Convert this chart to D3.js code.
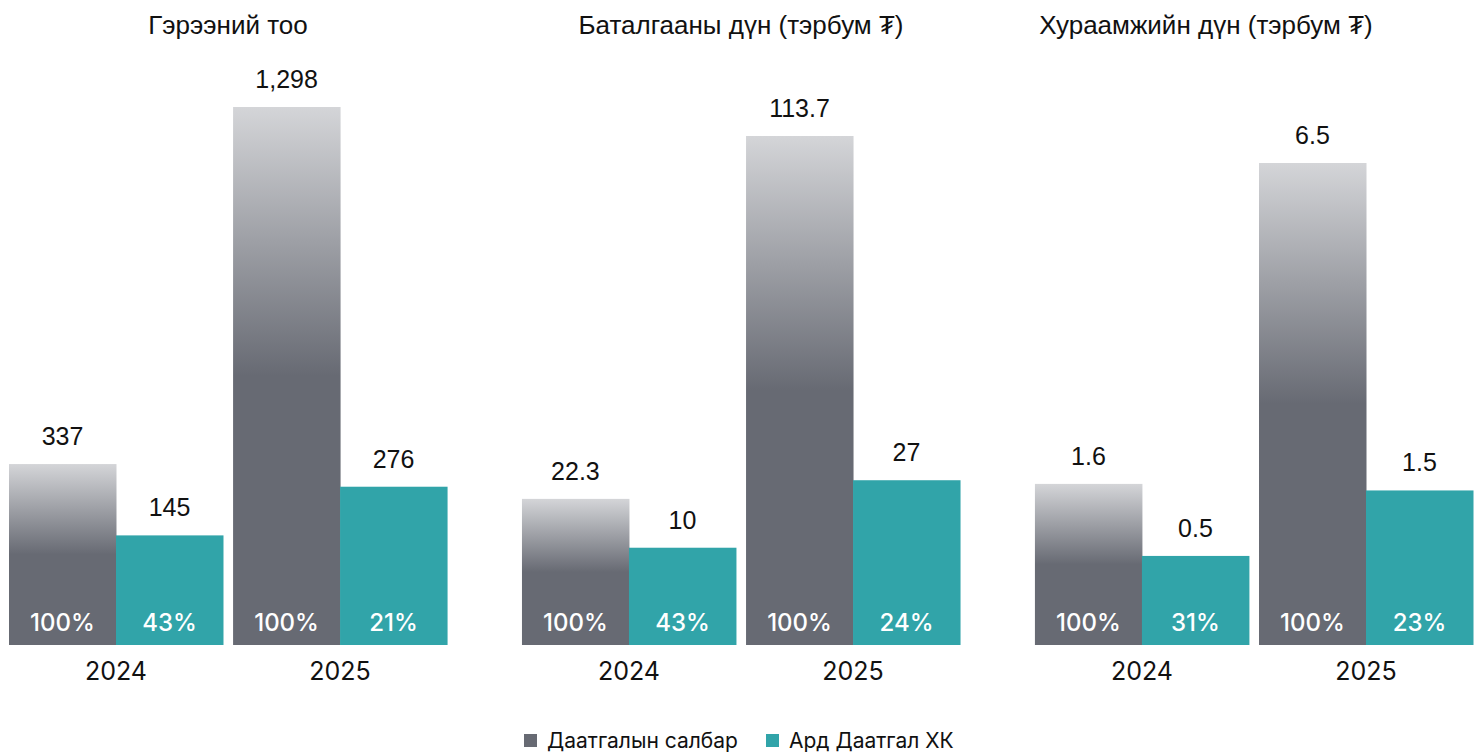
<!DOCTYPE html>
<html>
<head>
<meta charset="utf-8">
<script src="https://cdn.jsdelivr.net/npm/d3@7"></script>
<style>
  body { margin: 0; background: #fff; }
  svg { display: block; }
</style>
</head>
<body>
<div id="chart"></div>
<script>
// panel titles
const panelTitles = ["Гэрээний тоо", "Баталгааны дүн (тэрбум ₮)", "Хураамжийн дүн (тэрбум ₮)"];
const years = ["2024", "2025"];
const seriesNames = ["Даатгалын салбар", "Ард Даатгал ХК"];

// values per panel: [year][series]
const contractCount = [[337, 145], [1298, 276]];
const guaranteeAmount = [[22.3, 10], [113.7, 27]];
const premiumAmount = [[1.6, 0.5], [6.5, 1.5]];

// share labels shown inside the bars
const contractShare = [[100, 43], [100, 21]];
const guaranteeShare = [[100, 43], [100, 24]];
const premiumShare = [[100, 31], [100, 23]];

// bars are drawn from a floor below zero (as in the source design)
const axisFloor = [-150, -14.5, -0.86];

const panels = [
    { title: panelTitles[0], values: contractCount, share: contractShare, floor: axisFloor[0] },
    { title: panelTitles[1], values: guaranteeAmount, share: guaranteeShare, floor: axisFloor[1] },
    { title: panelTitles[2], values: premiumAmount, share: premiumShare, floor: axisFloor[2] }
];

const W = 1480, H = 754;
const baseY = 645;
const topY = [107, 136, 163];
const titleShift = [0, 0, -48];

const colors = ["url(#grayGrad)", "#31a4a9"];
const legendColors = ["#676a73", "#31a4a9"];

const svg = d3.select("#chart").append("svg")
    .attr("width", W)
    .attr("height", H);

const grad = svg.append("defs").append("linearGradient")
    .attr("id", "grayGrad")
    .attr("x1", 0).attr("y1", 0).attr("x2", 0).attr("y2", 1);
grad.append("stop").attr("offset", "0%").attr("stop-color", "#d4d5d8");
grad.append("stop").attr("offset", "50%").attr("stop-color", "#676a73");
grad.append("stop").attr("offset", "100%").attr("stop-color", "#676a73");

const xPanel = d3.scaleBand()
    .domain(d3.range(panels.length))
    .range([9, 1473])
    .paddingInner(0.146);

const xYear = d3.scaleBand()
    .domain(years)
    .range([0, xPanel.bandwidth()])
    .paddingInner(0.045);

const xSeries = d3.scaleBand()
    .domain(seriesNames)
    .range([0, xYear.bandwidth()]);

const fmt = d3.format(",");
const titleFont = "'Liberation Sans', Arial, sans-serif";
const labelFont = "Inter, 'Noto Sans', sans-serif";

panels.forEach((p, i) => {
    const maxVal = d3.max(p.values.flat());
    const y = d3.scaleLinear().domain([p.floor, maxVal]).range([baseY, topY[i]]);

    const g = svg.append("g")
        .attr("transform", `translate(${xPanel(i)},0)`);

    g.append("text")
        .attr("x", xPanel.bandwidth() / 2 + titleShift[i])
        .attr("y", 34)
        .attr("text-anchor", "middle")
        .style("font-family", titleFont)
        .style("font-size", "26px")
        .style("fill", "#111")
        .text(p.title);

    const groups = g.selectAll(".year")
        .data(years)
        .enter().append("g")
        .attr("class", "year")
        .attr("transform", d => `translate(${xYear(d)},0)`);

    groups.each(function (yr, yi) {
        const grp = d3.select(this);
        const rows = seriesNames.map((s, si) => ({
            series: s, si, value: p.values[yi][si], share: p.share[yi][si]
        }));

        grp.selectAll("rect")
            .data(rows)
            .enter().append("rect")
            .attr("x", d => xSeries(d.series))
            .attr("y", d => y(d.value))
            .attr("width", xSeries.bandwidth() + 0.5)
            .attr("height", d => baseY - y(d.value))
            .attr("fill", d => colors[d.si]);

        grp.selectAll(".val")
            .data(rows)
            .enter().append("text")
            .attr("class", "val")
            .attr("x", d => xSeries(d.series) + xSeries.bandwidth() / 2)
            .attr("y", d => y(d.value) - 19)
            .attr("text-anchor", "middle")
            .style("font-family", titleFont)
            .style("font-size", "25px")
            .style("fill", "#111")
            .text(d => fmt(d.value));

        grp.selectAll(".pct")
            .data(rows)
            .enter().append("text")
            .attr("class", "pct")
            .attr("x", d => xSeries(d.series) + xSeries.bandwidth() / 2)
            .attr("y", 631)
            .attr("text-anchor", "middle")
            .style("font-family", labelFont)
            .style("font-size", "24px")
            .style("font-weight", 500)
            .style("fill", "#fff")
            .text(d => `${d.share}%`);

        grp.append("text")
            .attr("x", xYear.bandwidth() / 2)
            .attr("y", 680)
            .attr("text-anchor", "middle")
            .style("font-family", labelFont)
            .style("font-size", "25px")
            .style("fill", "#111")
            .text(yr);
    });
});

// legend
const legendX = [524, 766];
const legend = svg.selectAll(".legend")
    .data(seriesNames)
    .enter().append("g")
    .attr("class", "legend")
    .attr("transform", (d, i) => `translate(${legendX[i]},0)`);

legend.append("rect")
    .attr("x", 0).attr("y", 734)
    .attr("width", 13).attr("height", 13)
    .attr("fill", (d, i) => legendColors[i]);

legend.append("text")
    .attr("x", 23)
    .attr("y", 748)
    .style("font-family", labelFont)
    .style("font-size", "21px")
    .style("fill", "#111")
    .text(d => d);
</script>
</body>
</html>
